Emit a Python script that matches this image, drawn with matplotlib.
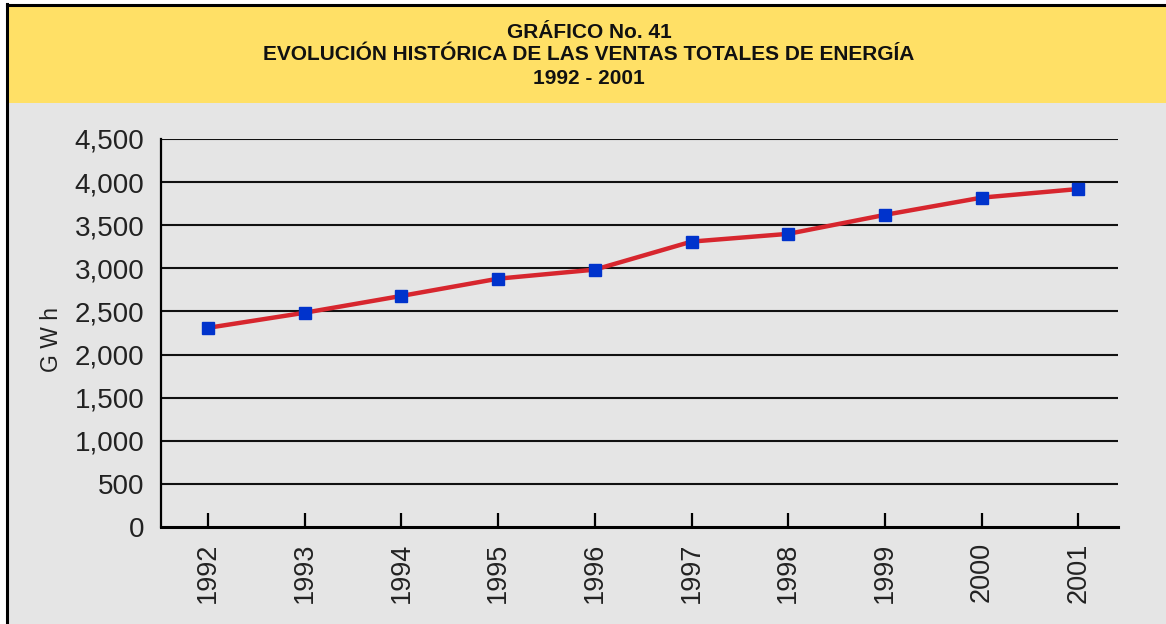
import matplotlib
matplotlib.use("Agg")
import matplotlib.pyplot as plt
from matplotlib.patches import Rectangle
from matplotlib.lines import Line2D

years = ["1992", "1993", "1994", "1995", "1996", "1997", "1998", "1999", "2000", "2001"]
ventas_gwh = [2310, 2485, 2680, 2880, 2985, 3310, 3400, 3620, 3820, 3920]
yticks = [0, 500, 1000, 1500, 2000, 2500, 3000, 3500, 4000, 4500]
title_lines = ["GRÁFICO No. 41",
               "EVOLUCIÓN HISTÓRICA DE LAS VENTAS TOTALES DE ENERGÍA",
               "1992 - 2001"]
ylabel = "G W h"

W, H = 1166, 624
fig = plt.figure(figsize=(W / 100, H / 100), dpi=100)
fig.patch.set_facecolor("white")

def fx(px):
    return px / W

def fy(py):
    return 1 - py / H

# gray panel and yellow title band
fig.add_artist(Rectangle((fx(7), 0), 1 - fx(7), fy(4), transform=fig.transFigure,
                         facecolor="#e5e5e5", edgecolor="none", zorder=0))
fig.add_artist(Rectangle((fx(7), fy(103)), 1 - fx(7), fy(4) - fy(103), transform=fig.transFigure,
                         facecolor="#ffe066", edgecolor="none", zorder=0))
fig.add_artist(Line2D([fx(7), fx(7)], [0, fy(4)], transform=fig.transFigure, color="black", lw=2.2))
fig.add_artist(Line2D([fx(7), 1], [fy(4.5), fy(4.5)], transform=fig.transFigure, color="black", lw=2.2))

for t, yy in zip(title_lines, [32, 55, 78]):
    fig.text(fx(589), fy(yy), t, ha="center", va="center", fontsize=15,
             fontweight="bold", family="Liberation Sans", color="#111111")

ax = fig.add_axes([fx(161), fy(527), fx(1118) - fx(161), fy(139) - fy(527)])
ax.set_facecolor("none")
x = list(range(len(years)))
ax.plot(x, ventas_gwh, color="#d7262e", lw=3.2, zorder=3, solid_capstyle="butt")
ax.plot(x, ventas_gwh, ls="none", marker="s", ms=8, color="#0033cc", zorder=4)

ax.set_ylim(0, 4500)
ax.set_xlim(-0.486, 9.41)
ax.set_yticks(yticks)
ax.set_yticklabels([f"{v:,}" for v in yticks])
for v in yticks[1:]:
    ax.axhline(v, color="#111111", lw=1.5, zorder=1)
ax.set_xticks(x)
ax.set_xticklabels(years, rotation=90)

for s in ["top", "right"]:
    ax.spines[s].set_visible(False)
ax.spines["left"].set_linewidth(1.6)
ax.spines["bottom"].set_linewidth(2.2)
ax.tick_params(axis="y", length=0, pad=12, labelsize=20, labelcolor="#222222")
ax.tick_params(axis="x", direction="in", length=10, width=1.6, pad=11,
               labelsize=19.5, labelcolor="#222222")
for lab in ax.get_xticklabels() + ax.get_yticklabels():
    lab.set_family("Liberation Sans")

fig.text(fx(52), fy(340), ylabel, rotation=90, ha="center", va="center",
         fontsize=16.5, family="Liberation Sans", color="#222222")

fig.savefig("out.png", dpi=100, facecolor=fig.get_facecolor())
